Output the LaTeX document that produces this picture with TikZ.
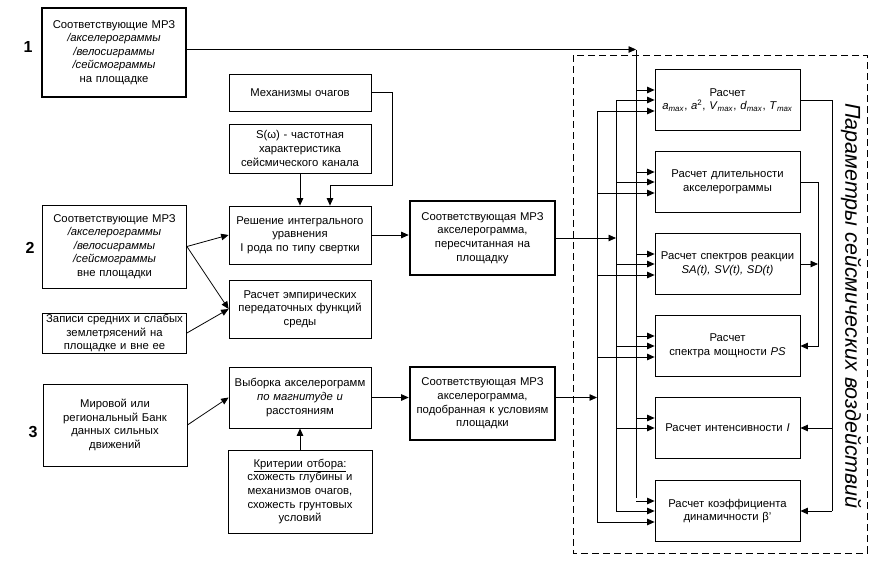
\documentclass[tikz,border=0pt]{standalone}
\usepackage{fontspec}
\setmainfont{Liberation Sans}
\usetikzlibrary{arrows.meta,calc}

\tikzstyle{box}=[draw, line width=0.8pt, align=center, inner sep=3pt, font={\fontsize{11.3}{13.6}\selectfont}]
\tikzstyle{mainbox}=[box, line width=2.6pt]
\tikzstyle{inbox}=[box, text width=138pt, minimum width=144pt]
\tikzstyle{midbox}=[box, text width=136pt, minimum width=142pt]
\tikzstyle{calcbox}=[box, text width=139pt, minimum width=145pt, minimum height=61pt]
\tikzstyle{row}=[font={\bfseries\fontsize{16}{16}\selectfont}]
\tikzstyle{arr}=[line width=0.8pt, -{Triangle[length=7.5pt,width=6.5pt]}]
\tikzstyle{line}=[line width=0.8pt]

\newcommand\pmax[1]{\textit{#1}\textsubscript{\textit{max}}}

\begin{document}
\begin{tikzpicture}[x=1pt, y=-1pt]
    \useasboundingbox (0,0) rectangle (878,565);

    % row numbers
    \node [row] (n1) at (28,47) {1};
    \node [row] (n2) at (30,248) {2};
    \node [row] (n3) at (33,432) {3};

    % input data
    \node [mainbox, text width=138pt, minimum width=144pt, minimum height=89pt] (a1) at (114,52.5)
        {Соответствующие МРЗ\\ \textit{/акселерограммы}\\ \textit{/велосиграммы}\\ \textit{/сейсмограммы}\\ на площадке};
    \node [inbox, minimum height=83pt] (a2) at (114.5,246.5)
        {Соответствующие МРЗ\\ \textit{/акселерограммы}\\ \textit{/велосиграммы}\\ \textit{/сейсмограммы}\\ вне площадки};
    \node [inbox, minimum height=40pt, inner sep=1pt] (zap) at (114.5,333)
        {Записи средних и слабых\\ землетрясений на\\ площадке и вне ее};
    \node [inbox, minimum height=82pt] (a3) at (115,425)
        {Мировой или\\ региональный Банк\\ данных сильных\\ движений};

    % processing
    \node [midbox, minimum height=37pt] (mech) at (300,92.5) {Механизмы очагов};
    \node [midbox, minimum height=49pt] (somega) at (300,148.5)
        {S(ω) - частотная\\ характеристика\\ сейсмического канала};
    \node [midbox, minimum height=58pt] (resh) at (300,235)
        {Решение интегрального\\ уравнения\\ I рода по типу свертки};
    \node [midbox, minimum height=58pt] (empir) at (300,309)
        {Расчет эмпирических\\ передаточных функций\\ среды};
    \node [midbox, minimum height=61pt] (vyb) at (300,397.5)
        {Выборка акселерограмм\\ \textit{по магнитуде и}\\ расстояниям};
    \node [inbox, minimum height=83pt] (krit) at (300,491.5)
        {\underline{Критерии отбора:}\\ схожесть глубины и\\ механизмов очагов,\\ схожесть грунтовых\\ условий};

    % resulting accelerograms
    \node [mainbox, text width=139pt, minimum width=145pt, minimum height=74pt] (mr1) at (482.5,238)
        {Соответствующая МРЗ\\ акселерограмма,\\ пересчитанная на\\ площадку};
    \node [mainbox, text width=139pt, minimum width=145pt, minimum height=73pt] (mr2) at (482.5,403.5)
        {Соответствующая МРЗ\\ акселерограмма,\\ подобранная к условиям\\ площадки};

    % parameters
    \draw [line, dash pattern=on 7pt off 4pt] (573,55) rectangle (867,553);
    \node [rotate=-90, font={\itshape\fontsize{21.5}{21.5}\selectfont}] (par) at (851,306)
        {Параметры сейсмических воздействий};
    \node [calcbox] (r1) at (727.5,100)
        {Расчет\\ \pmax{a}, \textit{a}\textsuperscript{2}, \pmax{V}, \pmax{d}, \pmax{T}};
    \node [calcbox] (r2) at (727.5,182) {Расчет длительности\\ акселерограммы};
    \node [calcbox] (r3) at (727.5,264) {Расчет спектров реакции\\ \textit{SA(t), SV(t), SD(t)}};
    \node [calcbox] (r4) at (727.5,346) {Расчет\\ спектра мощности \textit{PS}};
    \node [calcbox] (r5) at (727.5,428) {Расчет интенсивности \textit{I}};
    \node [calcbox] (r6) at (727.5,511) {Расчет коэффициента\\ динамичности β'};

    % buses
    \coordinate (bus1) at (636,0);
    \coordinate (bus2) at (616,0);
    \coordinate (bus3) at (597,0);
    \coordinate (fb1) at (832,0);
    \coordinate (fb2) at (818,0);
    \coordinate (mechturn) at (392,185);

    % left part
    \draw [arr] (mech.east) -| (mechturn) -| ([xshift=30pt]resh.north);
    \draw [arr] (somega.south) -- (resh.north);
    \draw [arr] (a2.east) -- (resh.west);
    \draw [arr] (a2.east) -- (empir.west);
    \draw [arr] (zap.east) -- (empir.west);
    \draw [arr] (a3.east) -- (vyb.west);
    \draw [arr] (krit.north) -- (vyb.south);
    \draw [arr] (resh.east) -- (resh.east -| mr1.west);
    \draw [arr] (vyb.east) -- (vyb.east -| mr2.west);

    % to the buses
    \draw [arr] ($(a1.east)+(0,-3)$) -- ($(bus1 |- a1.east)+(0,-3)$);
    \draw [line] ($(bus1 |- a1.east)+(0,-3)$) -- ($(bus1 |- r6.west)+(0,-13)$);
    \draw [arr] (mr1.east) -- (bus2 |- mr1.east);
    \draw [line] (bus2 |- r1.west) -- (bus2 |- r6.west);
    \draw [arr] (vyb.east -| mr2.east) -- (vyb.east -| bus3);
    \draw [line] ($(bus3 |- r1.west)+(0,11)$) -- ($(bus3 |- r6.west)+(0,11)$);

    \foreach \r in {r1,r2,r3,r4,r5,r6} {
        \draw [arr] ($(bus1 |- \r.west)+(0,-10)$) -- ($(\r.west)+(0,-10)$);
        \draw [arr] (bus2 |- \r.west) -- (\r.west);
    }
    \foreach \r in {r1,r2,r3,r4,r6}
        \draw [arr] ($(bus3 |- \r.west)+(0,11)$) -- ($(\r.west)+(0,11)$);

    % feedback on the right
    \draw [line] (r1.east) -- (fb1 |- r1.east) -- (fb1 |- r6.east);
    \draw [arr] (fb1 |- r5.east) -- (r5.east);
    \draw [arr] (fb1 |- r6.east) -- (r6.east);
    \draw [arr] (r2.east) -| (fb2 |- r4.east) -- (r4.east);
    \draw [arr] (r3.east) -- (fb2 |- r3.east);
\end{tikzpicture}
\end{document}
